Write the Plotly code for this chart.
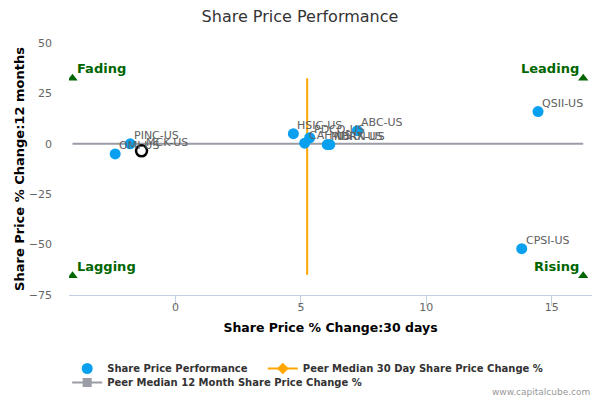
import plotly.graph_objects as go

# ---- data ----
tickers = ["QSII-US", "CPSI-US", "ABC-US", "HSIC-US", "PDCO-US", "CAH-US", "MDRX-US", "NBRN-US", "OMI-US", "PINC-US"]
chg_30d = [14.45, 13.8, 7.25, 4.7, 5.35, 5.15, 6.05, 6.15, -2.4, -1.8]
chg_12m = [16.0, -52.0, 6.5, 5.0, 3.0, 0.3, -0.4, -0.4, -5.0, 0.0]

focus_ticker = ["MCK-US"]
focus_30d = [-1.35]
focus_12m = [-3.5]

median_30d = 5.25
median_12m = 0.0
median_v_y = [32.5, -65.0]
median_h_x = [-4.1, 16.25]

quad_labels = ["Fading", "Leading", "Lagging", "Rising"]
quad_x = [-4.1, 16.25, -4.1, 16.25]
quad_y = [32.5, 32.5, -65.5, -65.5]

x_ticks = [0, 5, 10, 15]
y_ticks = [-75, -50, -25, 0, 25, 50]

FONT = "DejaVu Sans"
BLUE = "#0AA0F0"
ORANGE = "#FFA500"
GREY = "#9A9CA6"
GREEN = "#006600"

fig = go.Figure()

# median lines (drawn)
fig.add_trace(go.Scatter(x=[median_30d, median_30d], y=median_v_y, mode="lines",
                         line=dict(color=ORANGE, width=2), showlegend=False, hoverinfo="skip"))
fig.add_trace(go.Scatter(x=median_h_x, y=[median_12m, median_12m], mode="lines",
                         line=dict(color=GREY, width=2), showlegend=False, hoverinfo="skip"))

# peers
fig.add_trace(go.Scatter(x=chg_30d, y=chg_12m, mode="markers",
                         marker=dict(color=BLUE, size=11),
                         name="Share Price Performance", showlegend=True, legend="legend"))
# focus company
fig.add_trace(go.Scatter(x=focus_30d, y=focus_12m, mode="markers",
                         marker=dict(color="rgba(255,255,255,0)", size=11,
                                     line=dict(color="black", width=2.5)),
                         showlegend=False))

# point labels
for t, px, py in zip(tickers + focus_ticker, chg_30d + focus_30d, chg_12m + focus_12m):
    fig.add_annotation(x=px, y=py, text=t, showarrow=False, xanchor="left", yanchor="middle",
                       xshift=2, yshift=8, font=dict(family=FONT, size=11, color="#606060"))

# quadrant markers
fig.add_trace(go.Scatter(x=quad_x, y=quad_y, mode="markers",
                         marker=dict(symbol="triangle-up", color=GREEN, size=9),
                         showlegend=False, hoverinfo="skip"))
for lab, qx, qy in zip(quad_labels, quad_x, quad_y):
    left = qx < 0
    fig.add_annotation(x=qx, y=qy, text="<b>%s</b>" % lab, showarrow=False,
                       xanchor="left" if left else "right", yanchor="bottom",
                       xshift=2 if left else -2, yshift=0,
                       font=dict(family=FONT, size=13, color=GREEN))

# legend-only entries
fig.add_trace(go.Scatter(x=[None], y=[None], mode="lines+markers",
                         line=dict(color=ORANGE, width=2),
                         marker=dict(symbol="diamond", color=ORANGE, size=9),
                         name="Peer Median 30 Day Share Price Change %", legend="legend2"))
fig.add_trace(go.Scatter(x=[None], y=[None], mode="lines+markers",
                         line=dict(color=GREY, width=2),
                         marker=dict(symbol="square", color=GREY, size=9),
                         name="Peer Median 12 Month Share Price Change %", legend="legend3"))

leg_common = dict(orientation="h", xref="container", yref="container",
                  xanchor="left", yanchor="top",
                  font=dict(family=FONT, size=10, color="#333333", weight="bold"),
                  itemwidth=30, bgcolor="rgba(0,0,0,0)")

fig.update_layout(
    width=600, height=400,
    paper_bgcolor="white", plot_bgcolor="white",
    margin=dict(l=69, r=8, t=43, b=105),
    font=dict(family=FONT, color="#333333"),
    title=dict(text="Share Price Performance", x=0.5, xanchor="center",
               y=1 - 16 / 400, yanchor="middle",
               font=dict(family=FONT, size=16, color="#333333")),
    showlegend=True,
    legend=dict(leg_common, x=0.112, y=0.115),
    legend2=dict(leg_common, x=0.438, y=0.115),
    legend3=dict(leg_common, x=0.112, y=0.08),
    xaxis=dict(range=[-4.24, 16.6], tickvals=x_ticks, showgrid=False, zeroline=False,
               automargin=False,
               showline=True, linecolor="#C0D0E0", linewidth=1,
               ticks="outside", ticklen=10, tickcolor="#C0D0E0",
               ticklabelstandoff=-8,
               tickfont=dict(family=FONT, size=11, color="#666666"),
               title=dict(text="<b>Share Price % Change:30 days</b>", standoff=10,
                          font=dict(family=FONT, size=12.5, color="#000000"))),
    yaxis=dict(range=[-75, 50], tickvals=y_ticks, showgrid=False, zeroline=False,
               automargin=False,
               showline=False, ticks="", ticklabelstandoff=16,
               tickfont=dict(family=FONT, size=11, color="#666666"),
               title=dict(text="<b>Share Price % Change:12 months</b>", standoff=1,
                          font=dict(family=FONT, size=13, color="#000000"))),
)

fig.add_annotation(text="www.capitalcube.com", xref="paper", yref="paper",
                   x=1, y=-105 / 252 + 8 / 252, xanchor="right", yanchor="middle",
                   showarrow=False, font=dict(family=FONT, size=9, color="#999999"))

fig.write_html("out.html", post_script="document.body.style.margin='0';",
               config={"displayModeBar": False})
